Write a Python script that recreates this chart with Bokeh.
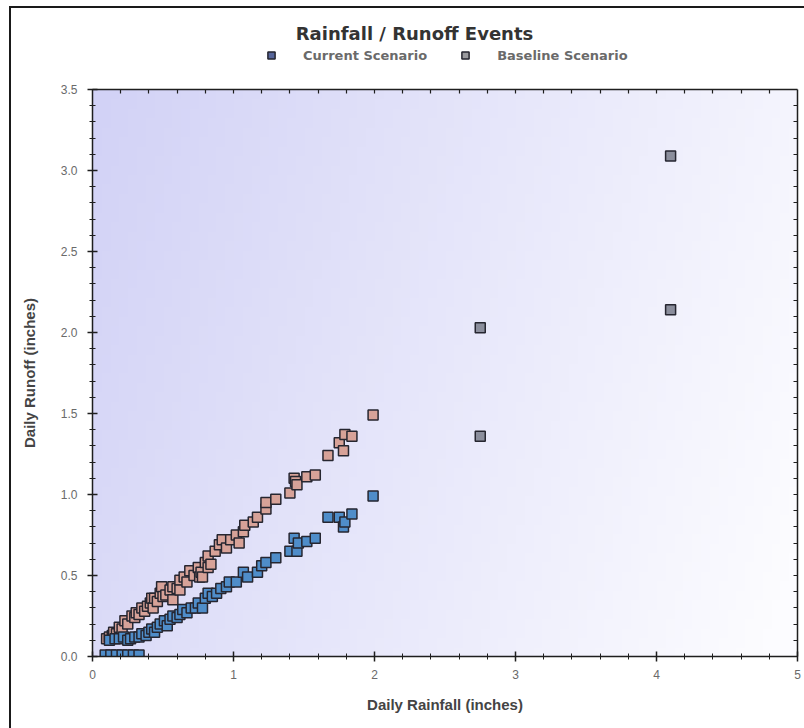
import numpy as np
from bokeh.plotting import figure
from bokeh.layouts import column
from bokeh.models import (LinearAxis, Legend, LegendItem, Range1d, ColumnDataSource,
                          FixedTicker, NumeralTickFormatter, Label)
from bokeh.embed import file_html
from bokeh.resources import INLINE

# ---------------- data ----------------
rain_current = [0.09, 0.13, 0.17, 0.21, 0.25, 0.29, 0.33,
                0.12, 0.16, 0.19, 0.22, 0.25, 0.27, 0.30, 0.33, 0.35, 0.38, 0.40, 0.42, 0.44,
                0.46, 0.48, 0.51, 0.53, 0.55, 0.57, 0.60, 0.62, 0.64, 0.67, 0.70, 0.73, 0.75,
                0.78, 0.80, 0.82, 0.85, 0.88, 0.91, 0.95, 0.97, 1.02, 1.07, 1.10, 1.17, 1.20,
                1.23, 1.30, 1.40, 1.43, 1.45, 1.46, 1.52, 1.58, 1.67, 1.75, 1.78, 1.79, 1.84,
                1.99, 2.75, 4.10]
runoff_current = [0.01, 0.01, 0.01, 0.01, 0.01, 0.01, 0.01,
                  0.10, 0.11, 0.11, 0.12, 0.10, 0.11, 0.12, 0.12, 0.14, 0.13, 0.15, 0.17, 0.15,
                  0.18, 0.20, 0.22, 0.19, 0.23, 0.25, 0.24, 0.26, 0.29, 0.27, 0.30, 0.30, 0.33,
                  0.30, 0.36, 0.39, 0.37, 0.39, 0.42, 0.43, 0.46, 0.46, 0.52, 0.49, 0.52, 0.56,
                  0.58, 0.61, 0.65, 0.73, 0.65, 0.70, 0.71, 0.73, 0.86, 0.86, 0.80, 0.83, 0.88,
                  0.99, 1.36, 2.14]

rain_baseline = [0.10, 0.12, 0.14, 0.15, 0.17, 0.19, 0.21, 0.23, 0.25, 0.28, 0.30, 0.31,
                 0.33, 0.35, 0.37, 0.39, 0.41, 0.42, 0.43, 0.44, 0.46, 0.48, 0.49, 0.50, 0.52,
                 0.55, 0.57, 0.57, 0.60, 0.62, 0.62, 0.65, 0.67, 0.69, 0.72, 0.75, 0.76, 0.77,
                 0.78, 0.80, 0.82, 0.82, 0.84, 0.87, 0.90, 0.92, 0.95, 0.98, 1.02, 1.04, 1.07,
                 1.08, 1.14, 1.17, 1.23, 1.23, 1.30, 1.40, 1.43, 1.44, 1.45, 1.52, 1.58, 1.67,
                 1.75, 1.78, 1.79, 1.84, 1.99, 2.75, 4.10]
runoff_baseline = [0.11, 0.12, 0.13, 0.15, 0.14, 0.18, 0.17, 0.22, 0.20, 0.25, 0.24, 0.27,
                   0.26, 0.30, 0.28, 0.31, 0.33, 0.36, 0.30, 0.36, 0.34, 0.39, 0.43, 0.37, 0.38,
                   0.41, 0.43, 0.35, 0.42, 0.47, 0.41, 0.49, 0.46, 0.53, 0.50, 0.55, 0.49, 0.52,
                   0.49, 0.58, 0.62, 0.55, 0.57, 0.65, 0.69, 0.72, 0.67, 0.72, 0.75, 0.70, 0.77,
                   0.81, 0.83, 0.86, 0.91, 0.95, 0.97, 1.01, 1.10, 1.08, 1.06, 1.11, 1.12, 1.24,
                   1.32, 1.27, 1.37, 1.36, 1.49, 2.03, 3.09]

x_major = [0, 1, 2, 3, 4, 5]
y_major = [0.0, 0.5, 1.0, 1.5, 2.0, 2.5, 3.0, 3.5]
x_minor_step = 0.2
y_minor_step = 0.1

title_text = "Rainfall / Runoff Events"
series_names = ["Current Scenario", "Baseline Scenario"]

# ---------------- styles ----------------
FONT = "Liberation Sans"
WIDE = "DejaVu Sans"
CUR = "#4f8dc9"
BASE = "#d7a298"
FAR = "#8b8e9c"
EDGE = "#262630"
AX = "#1e1e1e"
W = 793
HEAD_H = 76
MAIN_H = 644
LEFT, RIGHT = 81, 7          # frame borders (page x of frame: 92 .. 797)
PAGE_X0, PAGE_Y0 = 11, 8     # canvas origin on the page

# ---------------- header (title + legend) ----------------
# the column aligns this frame with the main frame: x 92..797 on the page
head = figure(width=W, height=HEAD_H, output_backend="svg", toolbar_location=None,
              x_range=Range1d(PAGE_X0 + LEFT, PAGE_X0 + W - RIGHT),
              y_range=Range1d(PAGE_Y0 + HEAD_H, PAGE_Y0),
              x_axis_type=None, y_axis_type=None,
              min_border_left=LEFT, min_border_right=RIGHT, min_border_top=0, min_border_bottom=0,
              background_fill_color="#ffffff", border_fill_color="#ffffff")
head.title = None
head.outline_line_color = None
head.grid.visible = False
head.add_layout(Label(x=414, y=33, text=title_text, text_align="center",
                      text_baseline="middle", text_font=WIDE, text_font_size="18px",
                      text_font_style="bold", text_color="#333333"))
# legend proxies (kept outside the visible header range)
lg_c = head.scatter([-100], [-100], marker="square", size=10, fill_color="#56659a",
                    line_color=EDGE, line_width=1.5)
lg_b = head.scatter([-100], [-100], marker="square", size=10, fill_color="#9a9a9e",
                    line_color=EDGE, line_width=1.5)
legend = Legend(items=[LegendItem(label=series_names[0], renderers=[lg_c]),
                       LegendItem(label=series_names[1], renderers=[lg_b])],
                orientation="horizontal", location=(170, 20),
                border_line_color=None, background_fill_alpha=0,
                label_text_font=WIDE, label_text_font_size="13px",
                label_text_font_style="bold", label_text_color="#6a6a6a",
                glyph_width=18, glyph_height=18, label_standoff=23, spacing=29,
                padding=2, margin=0)
head.add_layout(legend, "center")

# ---------------- main plot ----------------
p = figure(width=W, height=MAIN_H, output_backend="svg", toolbar_location=None,
           x_range=Range1d(x_major[0], x_major[-1]), y_range=Range1d(y_major[0], y_major[-1]),
           min_border_left=LEFT, min_border_right=RIGHT, min_border_top=5, min_border_bottom=72,
           background_fill_color="#ffffff", border_fill_color="#ffffff")
p.title = None

# gradient background of the plotting area
ny, nx = 60, 80
u = np.linspace(0, 1, nx)[None, :]
v = np.linspace(0, 1, ny)[:, None]          # 0 at bottom, 1 at top
t = np.clip(0.82 * u + 0.22 * (1 - v), 0, 1)
c0 = np.array([210, 210, 246])
c1 = np.array([252, 252, 255])
img = np.empty((ny, nx), dtype=np.uint32)
view = img.view(dtype=np.uint8).reshape((ny, nx, 4))
for k in range(3):
    view[:, :, k] = (c0[k] + (c1[k] - c0[k]) * t).astype(np.uint8)
view[:, :, 3] = 255
p.image_rgba(image=[img], x=x_major[0], y=y_major[0],
             dw=x_major[-1] - x_major[0], dh=y_major[-1] - y_major[0])

def base_axis(ax):
    ax.axis_line_color = AX
    ax.axis_line_width = 1.5
    ax.major_tick_line_color = AX
    ax.minor_tick_line_color = AX
    ax.major_tick_line_width = 1.5
    ax.minor_tick_line_width = 1
    ax.major_label_text_font = FONT
    ax.major_label_text_font_size = "12px"
    ax.major_label_text_color = "#6a6a6a"
    ax.axis_label_text_font = FONT
    ax.axis_label_text_font_size = "15px"
    ax.axis_label_text_font_style = "bold"
    ax.axis_label_text_color = "#444444"

x_minor = [round(v_, 2) for v_ in np.arange(x_major[0], x_major[-1] + 1e-9, x_minor_step)
           if abs(v_ - round(v_)) > 1e-6]
y_minor = [round(v_, 2) for v_ in np.arange(y_major[0], y_major[-1] + 1e-9, y_minor_step)
           if abs(v_ * 2 - round(v_ * 2)) > 1e-6]

p.xaxis.ticker = FixedTicker(ticks=x_major, minor_ticks=x_minor)
p.yaxis.ticker = FixedTicker(ticks=y_major, minor_ticks=y_minor)
p.yaxis.formatter = NumeralTickFormatter(format="0.0")
p.xaxis.axis_label = "Daily Rainfall (inches)"
p.yaxis.axis_label = "Daily Runoff (inches)"
for ax in (p.xaxis[0], p.yaxis[0]):
    base_axis(ax)
    ax.major_tick_in = 5
    ax.major_tick_out = 5
    ax.minor_tick_in = 3
    ax.minor_tick_out = 3
p.xaxis.major_label_standoff = 8
p.yaxis.major_label_standoff = 10
p.xaxis.axis_label_standoff = 14
p.yaxis.axis_label_standoff = 20

# mirrored top / right axes: ticks only (no labels)
top = LinearAxis(ticker=FixedTicker(ticks=[], minor_ticks=x_major[1:-1] + x_minor))
right = LinearAxis(ticker=FixedTicker(ticks=[], minor_ticks=y_major[1:-1] + y_minor))
for ax in (top, right):
    base_axis(ax)
    ax.minor_tick_in = 4
    ax.minor_tick_out = 0
    ax.minor_tick_line_width = 1.2
p.add_layout(top, "above")
p.add_layout(right, "right")

# grid
p.xgrid.ticker = FixedTicker(ticks=x_major[1:-1])
p.ygrid.ticker = FixedTicker(ticks=y_major[1:-1])
for g in (p.xgrid[0], p.ygrid[0]):
    g.grid_line_color = "#b4b4c4"
    g.grid_line_dash = "1 4"
    g.grid_line_width = 1.5
p.outline_line_color = None

# points: the two far events are drawn greyed, as in the reference
def colors(xs, base):
    return [FAR if xv > 2.5 else base for xv in xs]

src_b = ColumnDataSource(dict(x=rain_baseline, y=runoff_baseline,
                              c=colors(rain_baseline, BASE)))
src_c = ColumnDataSource(dict(x=rain_current, y=runoff_current,
                              c=colors(rain_current, CUR)))
p.scatter("x", "y", source=src_b, marker="square", size=10, fill_color="c",
          line_color=EDGE, line_width=1.5)
p.scatter("x", "y", source=src_c, marker="square", size=10, fill_color="c",
          line_color=EDGE, line_width=1.5)

layout = column(head, p, spacing=0)
layout.styles = {"border-left": "2px solid #1a1a1a", "border-top": "2px solid #1a1a1a",
                 "margin-left": "9px", "margin-top": "6px"}

open("out.html", "w").write(file_html(layout, INLINE))
